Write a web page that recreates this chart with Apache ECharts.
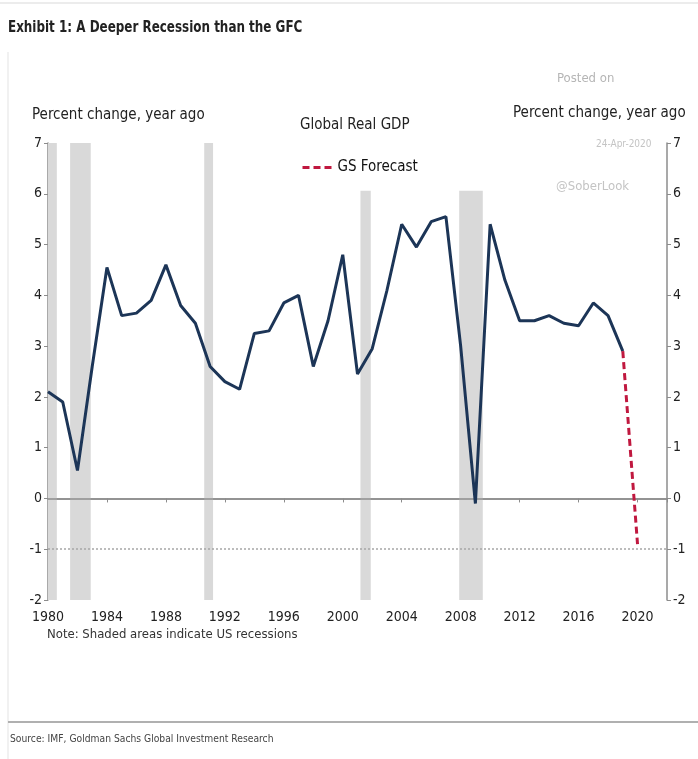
<!DOCTYPE html>
<html>
<head>
<meta charset="utf-8">
<script src="https://cdn.jsdelivr.net/npm/echarts@6/dist/echarts.min.js"></script>
<style>
html,body{margin:0;padding:0;background:#fff;}
#c{width:698px;height:759px;}
</style>
</head>
<body>
<div id="c"></div>
<script>
// ---- data ----
var years = [1980,1981,1982,1983,1984,1985,1986,1987,1988,1989,1990,1991,1992,1993,1994,1995,1996,1997,1998,1999,2000,2001,2002,2003,2004,2005,2006,2007,2008,2009,2010,2011,2012,2013,2014,2015,2016,2017,2018,2019];
var gdp = [2.1,1.9,0.55,2.6,4.55,3.6,3.65,3.9,4.6,3.8,3.45,2.6,2.3,2.15,3.25,3.3,3.85,4.0,2.6,3.5,4.8,2.45,2.95,4.1,5.4,4.95,5.45,5.55,3.0,-0.1,5.4,4.3,3.5,3.5,3.6,3.45,3.4,3.85,3.6,2.9];
var forecastYears = [2019, 2020];
var forecastValues = [2.9, -0.9];
var recessionStart = [1980.0, 1981.5, 1990.6, 2001.2, 2007.9];
var recessionEnd   = [1980.6, 1982.9, 1991.2, 2001.9, 2009.5];
var recessionTop   = [7, 7, 7, 6.06, 6.06];

var FONT = '"Liberation Sans Narrow","DejaVu Sans Condensed","Liberation Sans",sans-serif';

var gdpData = years.map(function(y,i){return [y, gdp[i]];});
var fcData = forecastYears.map(function(y,i){return [y, forecastValues[i]];});
var areas = recessionStart.map(function(s,i){
  return [{xAxis: s, yAxis: -2}, {xAxis: recessionEnd[i], yAxis: recessionTop[i]}];
});

var chart = echarts.init(document.getElementById('c'), null, {renderer:'canvas'});
chart.setOption({
  backgroundColor: '#fff',
  animation: false,
  grid: {left: 48, right: 31, top: 143, bottom: 159},
  xAxis: {
    type: 'value', min: 1980, max: 2022, interval: 4,
    axisLine: {show: true, lineStyle: {color: '#8c8c8c', width: 1.5}},
    axisTick: {show: true, length: 4, inside: false, lineStyle: {color: '#8c8c8c'}},
    splitLine: {show: false},
    axisLabel: {
      color: '#222', fontFamily: FONT, fontSize: 14, margin: 10,
      formatter: function(v){ return (v % 4 === 0) ? String(v) : ''; }
    }
  },
  yAxis: [{
    type: 'value', min: -2, max: 7, interval: 1, position: 'left',
    axisLine: {show: true, lineStyle: {color: '#8c8c8c', width: 1.5}},
    axisTick: {show: true, length: 4, lineStyle: {color: '#8c8c8c'}},
    splitLine: {show: false},
    axisLabel: {color: '#222', fontFamily: FONT, fontSize: 14, margin: 6}
  },{
    type: 'value', min: -2, max: 7, interval: 1, position: 'right',
    axisLine: {show: true, lineStyle: {color: '#8c8c8c', width: 1.5}},
    axisTick: {show: true, length: 4, lineStyle: {color: '#8c8c8c'}},
    splitLine: {show: false},
    axisLabel: {color: '#222', fontFamily: FONT, fontSize: 14, margin: 6}
  }],
  legend: {
    data: ['GS Forecast'],
    left: 296, top: 155,
    itemWidth: 30, itemHeight: 10, itemGap: 6,
    itemStyle: {opacity: 0},
    lineStyle: {width: 3},
    textStyle: {color: '#111', fontFamily: FONT, fontSize: 15},
    selectedMode: false
  },
  series: [{
    name: 'Global Real GDP',
    type: 'line',
    data: gdpData,
    symbol: 'none',
    z: 5,
    lineStyle: {color: '#1c3557', width: 3},
    itemStyle: {color: '#1c3557'},
    markArea: {
      silent: true,
      itemStyle: {color: '#d9d9d9'},
      data: areas
    },
    markLine: {
      silent: true, symbol: 'none', label: {show: false},
      data: [
        {yAxis: 0, lineStyle: {color: '#8c8c8c', width: 1.5, type: 'solid'}},
        {yAxis: -1, lineStyle: {color: '#a6a6a6', width: 1.5, type: [2,2]}}
      ]
    }
  },{
    name: 'GS Forecast',
    type: 'line',
    data: fcData,
    symbol: 'none',
    z: 6,
    lineStyle: {color: '#c0183f', width: 3, type: [7,4]},
    itemStyle: {color: '#c0183f'}
  }],
  graphic: [
    {type:'line', shape:{x1:0,y1:3,x2:698,y2:3}, style:{stroke:'#d9d9d9', lineWidth:1}},
    {type:'line', shape:{x1:8,y1:52,x2:8,y2:759}, style:{stroke:'#e3e3e3', lineWidth:1}},
    {type:'line', shape:{x1:8,y1:722,x2:698,y2:722}, style:{stroke:'#b0b0b0', lineWidth:2}},
    {type:'text', left: 8, top: 20, scaleX: 0.83, style:{text:'Exhibit 1: A Deeper Recession than the GFC', fill:'#222', font:'bold 16px '+FONT}},
    {type:'text', left: 32, top: 108, style:{text:'Percent change, year ago', fill:'#222', font:'15px '+FONT}},
    {type:'text', left: 300, top: 118, style:{text:'Global Real GDP', fill:'#222', font:'15px '+FONT}},
    {type:'text', left: 557, top: 72, style:{text:'Posted on', fill:'#b5b5b5', font:'13px '+FONT}},
    {type:'text', left: 513, top: 106, style:{text:'Percent change, year ago', fill:'#222', font:'15px '+FONT}},
    {type:'text', left: 596, top: 139, style:{text:'24-Apr-2020', fill:'#c4c4c4', font:'10px '+FONT}},
    {type:'text', left: 556, top: 180, style:{text:'@SoberLook', fill:'#c4c4c4', font:'13px '+FONT}},
    {type:'text', left: 47, top: 628, style:{text:'Note: Shaded areas indicate US recessions', fill:'#333', font:'13px '+FONT}},
    {type:'text', left: 10, top: 734, scaleX: 0.93, style:{text:'Source: IMF, Goldman Sachs Global Investment Research', fill:'#444', font:'11px '+FONT}}
  ]
});
</script>
</body>
</html>
